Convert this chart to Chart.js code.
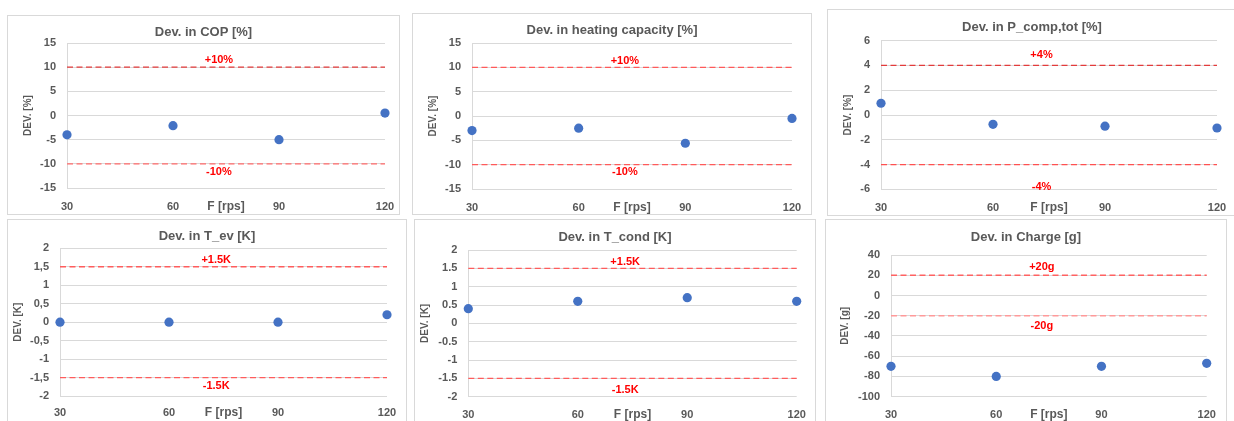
<!DOCTYPE html>
<html><head><meta charset="utf-8">
<script src="https://cdn.jsdelivr.net/npm/chart.js@4.4.0/dist/chart.umd.min.js"></script>
<style>
html,body{margin:0;padding:0;background:#fff;width:1234px;height:421px;overflow:hidden;position:relative}
.frame{position:absolute;box-sizing:border-box;border:1px solid #d9d9d9;pointer-events:none}
canvas{position:absolute}
</style></head><body>
<script>
// ---------- data ----------
const freq = [30, 60, 90, 120];
const xTickLabels = ['30', '60', '90', '120'];
const xTitle = 'F [rps]';

const devCOP    = [-4, -2.1, -5, 0.5];
const devHeat   = [-3, -2.5, -5.6, -0.5];
const devPcomp  = [0.95, -0.75, -0.9, -1.05];
const devTev    = [0, 0, 0, 0.2];
const devTcond  = [0.4, 0.6, 0.7, 0.6];
const devCharge = [-70, -80, -70, -67];

const titles = ['Dev. in COP [%]', 'Dev. in heating capacity [%]', 'Dev. in P_comp,tot [%]',
                'Dev. in T_ev [K]', 'Dev. in T_cond [K]', 'Dev. in Charge [g]'];
const yTitles = ['DEV. [%]', 'DEV. [%]', 'DEV. [%]', 'DEV. [K]', 'DEV. [K]', 'DEV. [g]'];

const yTicksPct15  = [-15, -10, -5, 0, 5, 10, 15];
const yLabelsPct15 = ['-15', '-10', '-5', '0', '5', '10', '15'];
const yTicksPct6   = [-6, -4, -2, 0, 2, 4, 6];
const yLabelsPct6  = ['-6', '-4', '-2', '0', '2', '4', '6'];
const yTicksK      = [-2, -1.5, -1, -0.5, 0, 0.5, 1, 1.5, 2];
const yLabelsKcomma = ['-2', '-1,5', '-1', '-0,5', '0', '0,5', '1', '1,5', '2'];
const yLabelsKdot   = ['-2', '-1.5', '-1', '-0.5', '0', '0.5', '1', '1.5', '2'];
const yTicksG      = [-100, -80, -60, -40, -20, 0, 20, 40];
const yLabelsG     = ['-100', '-80', '-60', '-40', '-20', '0', '20', '40'];

const limCOP = [10, -10],   limTextCOP = ['+10%', '-10%'],  limTextYCOP = [11.4, -11.7];
const limHeat = [10, -10],  limTextHeat = ['+10%', '-10%'], limTextYHeat = [11.4, -11.6];
const limPcomp = [4, -4],   limTextPcomp = ['+4%', '-4%'],  limTextYPcomp = [4.84, -5.8];
const limTev = [1.5, -1.5], limTextTev = ['+1.5K', '-1.5K'], limTextYTev = [1.68, -1.74];
const limTcond = [1.5, -1.5], limTextTcond = ['+1.5K', '-1.5K'], limTextYTcond = [1.68, -1.82];
const limCharge = [20, -20], limTextCharge = ['+20g', '-20g'], limTextYCharge = [28.3, -30.3];
const limTextX = 73;

// ---------- layout / style ----------
const FONT = "'Liberation Sans', Arial, sans-serif";
const GREY = '#595959';

const panels = [
  {title: titles[0], yTitle: yTitles[0], values: devCOP, yTicks: yTicksPct15, yLabels: yLabelsPct15,
   lim: limCOP, limText: limTextCOP, limTextY: limTextYCOP,
   box: [7, 15, 400, 215], plot: [67, 43, 385, 188], titleY: 32, yTitleX: 28, xLabelY: 206,
   colors: ['#e23b3b', '#ff6b6b']},
  {title: titles[1], yTitle: yTitles[1], values: devHeat, yTicks: yTicksPct15, yLabels: yLabelsPct15,
   lim: limHeat, limText: limTextHeat, limTextY: limTextYHeat,
   box: [412, 13, 812, 215], plot: [472, 43, 792, 189], titleY: 30, yTitleX: 433, xLabelY: 207,
   colors: ['#ff5a5a', '#ff5a5a']},
  {title: titles[2], yTitle: yTitles[2], values: devPcomp, yTicks: yTicksPct6, yLabels: yLabelsPct6,
   lim: limPcomp, limText: limTextPcomp, limTextY: limTextYPcomp,
   box: [827, 9, 1237, 216], plot: [881, 40.7, 1217, 189.3], titleY: 27, yTitleX: 848, xLabelY: 206.7,
   colors: ['#e23b3b', '#ff5050']},
  {title: titles[3], yTitle: yTitles[3], values: devTev, yTicks: yTicksK, yLabels: yLabelsKcomma,
   lim: limTev, limText: limTextTev, limTextY: limTextYTev,
   box: [7, 219, 407, 440], plot: [60, 248.3, 387, 396], titleY: 236.7, yTitleX: 18.3, xLabelY: 412,
   colors: ['#ff5c5c', '#ff5c5c']},
  {title: titles[4], yTitle: yTitles[4], values: devTcond, yTicks: yTicksK, yLabels: yLabelsKdot,
   lim: limTcond, limText: limTextTcond, limTextY: limTextYTcond,
   box: [414, 219, 816, 440], plot: [468.3, 250, 796.7, 396.7], titleY: 237.3, yTitleX: 425.7, xLabelY: 413.3,
   colors: ['#ff5c5c', '#ff5c5c']},
  {title: titles[5], yTitle: yTitles[5], values: devCharge, yTicks: yTicksG, yLabels: yLabelsG,
   lim: limCharge, limText: limTextCharge, limTextY: limTextYCharge,
   box: [825, 219, 1227, 440], plot: [891, 255, 1206.7, 396.7], titleY: 237, yTitleX: 845, xLabelY: 413.3,
   colors: ['#ff6262', '#ff9a9a']}
];

const limitLabelPlugin = {
  id: 'limitLabels',
  afterDatasetsDraw(chart, args, opts) {
    const {ctx, scales} = chart;
    ctx.save();
    ctx.font = 'bold 11px ' + FONT;
    ctx.fillStyle = '#ff0000';
    ctx.textAlign = 'center';
    ctx.textBaseline = 'middle';
    (opts.items || []).forEach(it => {
      ctx.fillText(it.text, scales.x.getPixelForValue(it.x), scales.y.getPixelForValue(it.y));
    });
    ctx.restore();
  }
};

function makeChart(p) {
  const [L, T, R, B] = p.box;
  const w = R - L, h = B - T;
  const frame = document.createElement('div');
  frame.className = 'frame';
  Object.assign(frame.style, {left: L + 'px', top: T + 'px', width: w + 'px', height: h + 'px'});
  const canvas = document.createElement('canvas');
  canvas.width = w; canvas.height = h;
  Object.assign(canvas.style, {left: L + 'px', top: T + 'px', width: w + 'px', height: h + 'px'});
  document.body.appendChild(canvas);
  document.body.appendChild(frame);

  const relL = p.plot[0] - L, relT = p.plot[1] - T, relR = p.plot[2] - L, relB = p.plot[3] - T;
  const tSize = 13, tLH = tSize * 1.2;
  const tPadTop = (p.titleY - T) - tLH / 2;
  const tPadBottom = Math.max(0, relT - tPadTop - tLH);
  const yTitlePad = Math.max(0, (p.yTitleX - L) - 6);
  const xTickPad = (p.xLabelY - p.plot[3]) - 13.2;
  const xTitlePadB = Math.max(0, (B - (p.xLabelY + 1)) - 7.2);

  new Chart(canvas, {
    type: 'scatter',
    data: {
      datasets: [
        {data: freq.map((x, i) => ({x, y: p.values[i]})), backgroundColor: '#4472C4', borderColor: '#4472C4',
         borderWidth: 0, pointRadius: 4.6, pointHoverRadius: 4.6, clip: false},
        {data: [{x: freq[0], y: p.lim[0]}, {x: freq[freq.length - 1], y: p.lim[0]}], showLine: true,
         borderColor: p.colors[0], borderWidth: 1.3, borderDash: [6, 3.5], pointRadius: 0, clip: false},
        {data: [{x: freq[0], y: p.lim[1]}, {x: freq[freq.length - 1], y: p.lim[1]}], showLine: true,
         borderColor: p.colors[1], borderWidth: 1.3, borderDash: [6, 3.5], pointRadius: 0, clip: false}
      ]
    },
    options: {
      responsive: false, animation: false, devicePixelRatio: 1,
      events: [],
      layout: {padding: 0},
      plugins: {
        legend: {display: false}, tooltip: {enabled: false},
        title: {display: true, text: p.title, color: GREY,
                font: {family: FONT, size: tSize, weight: 'bold', lineHeight: 1.2},
                padding: {top: tPadTop, bottom: tPadBottom}},
        limitLabels: {items: p.limText.map((t, i) => ({text: t, x: limTextX, y: p.limTextY[i]}))}
      },
      scales: {
        x: {
          type: 'linear', min: freq[0], max: freq[freq.length - 1],
          afterBuildTicks: s => { s.ticks = freq.map(v => ({value: v})); },
          afterFit: s => { s.height = h - relB; },
          ticks: {callback: v => xTickLabels[freq.indexOf(v)] ?? '', color: GREY, autoSkip: false, maxRotation: 0,
                  padding: xTickPad, font: {family: FONT, size: 11, weight: 'bold', lineHeight: 1.2}},
          grid: {display: false}, border: {display: false},
          title: {display: true, text: xTitle, color: GREY, padding: {top: 0, bottom: xTitlePadB},
                  font: {family: FONT, size: 12, weight: 'bold', lineHeight: 1.2}}
        },
        y: {
          type: 'linear', min: p.yTicks[0], max: p.yTicks[p.yTicks.length - 1],
          afterBuildTicks: s => { s.ticks = p.yTicks.map(v => ({value: v})); },
          afterFit: s => { s.width = relL; },
          ticks: {callback: v => p.yLabels[p.yTicks.indexOf(v)] ?? '', color: GREY, autoSkip: false, padding: 11,
                  font: {family: FONT, size: 11, weight: 'bold', lineHeight: 1.2}},
          grid: {color: '#d9d9d9', lineWidth: 1, drawTicks: false},
          border: {display: true, color: '#d9d9d9', width: 1},
          title: {display: true, text: p.yTitle, color: GREY, padding: {top: yTitlePad, bottom: 0},
                  font: {family: FONT, size: 10, weight: 'bold', lineHeight: 1.2}}
        },
        // empty right-hand margin so the chart title stays centred on the whole frame
        yRight: {
          type: 'linear', position: 'right', display: true,
          afterFit: s => { s.width = w - relR; },
          ticks: {display: false}, grid: {display: false, drawTicks: false}, border: {display: false},
          title: {display: false}
        }
      }
    },
    plugins: [limitLabelPlugin]
  });
}

panels.forEach(makeChart);
</script>
</body></html>
